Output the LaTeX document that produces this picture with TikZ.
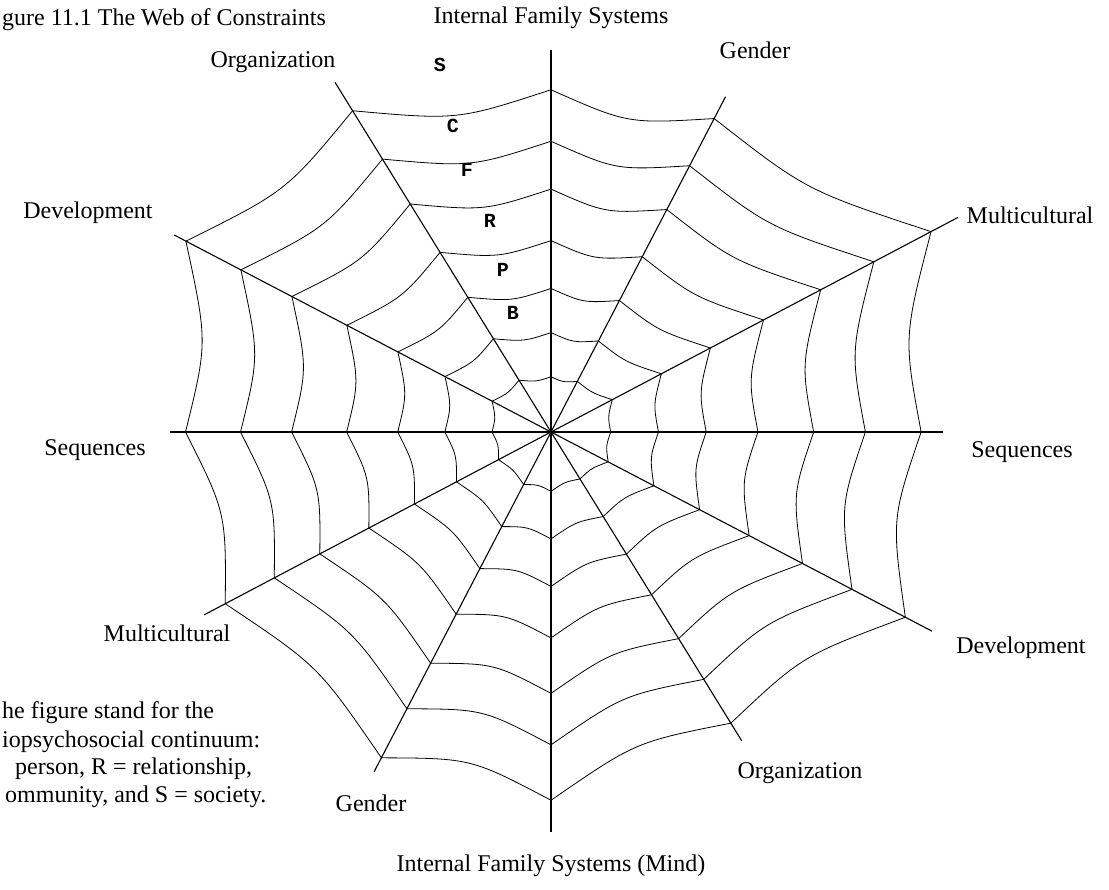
\documentclass[tikz,border=0pt]{standalone}
\usepackage{fontspec}
\setmainfont{Liberation Serif}
\setmonofont{Liberation Mono}
\usetikzlibrary{calc}
\tikzset{spoke/.style={black, line width=1.1pt},
  thread/.style={black, line width=0.8pt},
  lbl/.style={font=\fontsize{24}{28}\selectfont, inner sep=0pt},
  band/.style={font=\ttfamily\bfseries\fontsize{20}{22}\selectfont, inner sep=0pt}}

\begin{document}
\begin{tikzpicture}[x=1pt,y=1pt]
      \useasboundingbox (-551,-458) rectangle (558,432);
      \coordinate (O) at (0,0);
      % spoke ends
      \foreach \n/\a/\l in {e/0/392, ene/27.8/460, nne/62.5/378, n/90/382, nnw/121.7/411, wnw/152.4/425,
        w/180/381, wsw/207.8/392, ssw/242.5/383, s/270/400, sse/301.7/363, ese/332.4/430}
        \coordinate (\n) at (\a:\l);
      \draw [spoke] (e) -- (w);
      \draw [spoke] (ene) -- (wsw);
      \draw [spoke] (nne) -- (ssw);
      \draw [spoke] (n) -- (s);
      \draw [spoke] (nnw) -- (sse);
      \draw [spoke] (wnw) -- (ese);
      % the rings, sagging towards the centre
      \foreach \a/\la/\b/\lb in {0/398/27.8/462, 27.8/462/62.5/380, 62.5/380/90/368, 90/368/121.7/406,
        121.7/406/152.4/443, 152.4/443/180/393, 180/393/207.8/396, 207.8/396/242.5/395,
        242.5/395/270/396, 270/396/301.7/368, 301.7/368/332.4/430, 332.4/430/360/398}
        \foreach \f in {0.93,0.79,0.66,0.52,0.39,0.27,0.15}
          \draw [thread] (\a:{\f*\la}) .. controls ($0.47*(\a:{\f*\la})+0.47*(\b:{\f*\lb})$) .. (\b:{\f*\lb});

      \node [lbl, anchor=west] (title) at (-549,412) {gure 11.1 The Web of Constraints};
      \node [lbl] (ifsTop) at (0,414) {Internal Family Systems};
      \node [lbl] (ifsMind) at (0,-434) {Internal Family Systems (Mind)};
      \node [lbl] (orgTop) at (-278,370) {Organization};
      \node [lbl] (orgBot) at (249,-341) {Organization};
      \node [lbl] (genTop) at (204,382) {Gender};
      \node [lbl] (genBot) at (-180,-371) {Gender};
      \node [lbl] (mulRight) at (479,217) {Multicultural};
      \node [lbl] (mulLeft) at (-384,-201) {Multicultural};
      \node [lbl] (devLeft) at (-463,219) {Development};
      \node [lbl] (devRight) at (470,-216) {Development};
      \node [lbl] (seqLeft) at (-456,-18) {Sequences};
      \node [lbl] (seqRight) at (471,-20) {Sequences};

      \node [band] (bandS) at (-111,367) {S};
      \node [band] (bandC) at (-98,306) {C};
      \node [band] (bandF) at (-84,262) {F};
      \node [band] (bandR) at (-61,211) {R};
      \node [band] (bandP) at (-48,162) {P};
      \node [band] (bandB) at (-38,119) {B};

      \node [lbl, anchor=west] (cap1) at (-549,-281) {he figure stand for the};
      \node [lbl, anchor=west] (cap2) at (-549,-310) {iopsychosocial continuum:};
      \node [lbl, anchor=west] (cap3) at (-536,-337) {person, R = relationship,};
      \node [lbl, anchor=west] (cap4) at (-546,-365) {ommunity, and S = society.};
    \end{tikzpicture}
\end{document}
